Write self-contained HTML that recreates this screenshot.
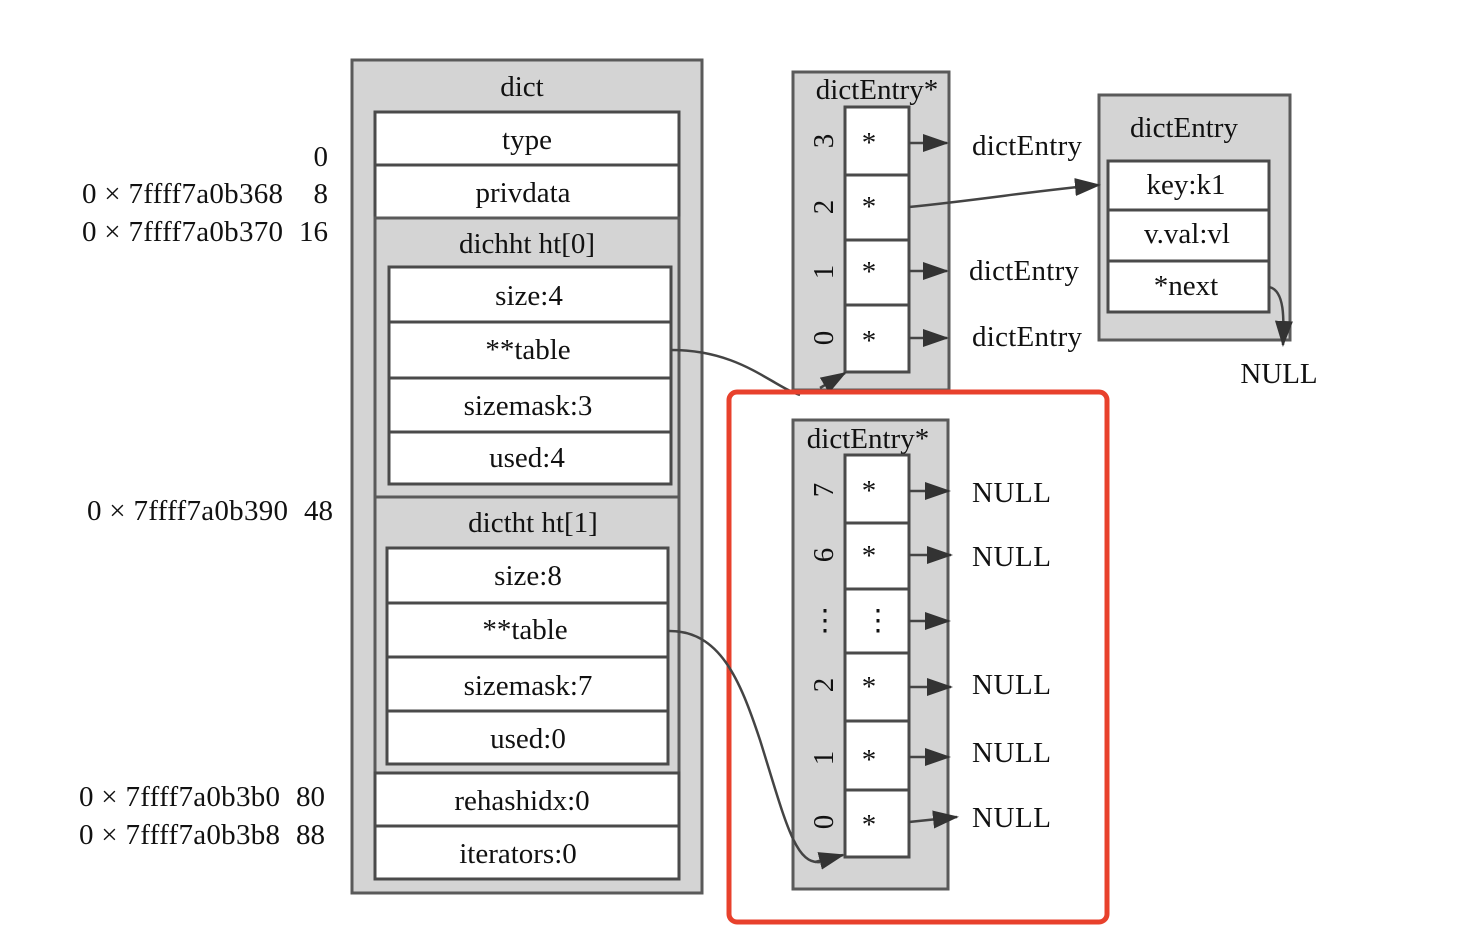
<!DOCTYPE html>
<html><head><meta charset="utf-8"><style>
html,body{margin:0;padding:0;background:#fff}
svg{display:block}
text{font-family:"Liberation Serif",serif;font-size:29px;fill:#111}
.g{fill:#d4d4d4;stroke:#5a5a5a;stroke-width:3}
.w{fill:#fff;stroke:#4a4a4a;stroke-width:3}
.e{stroke:#444;stroke-width:2.5;fill:none}
</style></head><body>
<svg width="1466" height="946" viewBox="0 0 1466 946">
<defs>
<marker id="a2" markerWidth="26" markerHeight="18" refX="24" refY="9" orient="auto" markerUnits="userSpaceOnUse"><path d="M0,0 L26,9 L0,18 z" fill="#333"/></marker></defs>

<g>
<text x="328" y="166" text-anchor="end">0</text>
<text x="82" y="203" textLength="201">0 × 7ffff7a0b368</text><text x="328" y="203" text-anchor="end">8</text>
<text x="82" y="241" textLength="201">0 × 7ffff7a0b370</text><text x="328" y="241" text-anchor="end">16</text>
<text x="87" y="520" textLength="201">0 × 7ffff7a0b390</text><text x="333" y="520" text-anchor="end">48</text>
<text x="79" y="806" textLength="201">0 × 7ffff7a0b3b0</text><text x="325" y="806" text-anchor="end">80</text>
<text x="79" y="844" textLength="201">0 × 7ffff7a0b3b8</text><text x="325" y="844" text-anchor="end">88</text>
</g>

<g>
<rect class="g" x="352" y="60" width="350" height="833"/>
<text x="522" y="96" text-anchor="middle">dict</text>
<rect class="w" x="375" y="112" width="304" height="53"/><text x="527" y="149" text-anchor="middle">type</text>
<rect class="w" x="375" y="165" width="304" height="53"/><text x="523" y="202" text-anchor="middle">privdata</text>
<rect class="g" x="375" y="218" width="304" height="279"/>
<text x="527" y="253" text-anchor="middle">dichht ht[0]</text>
<rect class="w" x="389" y="267" width="282" height="55"/><text x="529" y="305" text-anchor="middle">size:4</text>
<rect class="w" x="389" y="322" width="282" height="56"/><text x="528" y="359" text-anchor="middle">**table</text>
<rect class="w" x="389" y="378" width="282" height="54"/><text x="528" y="415" text-anchor="middle">sizemask:3</text>
<rect class="w" x="389" y="432" width="282" height="52"/><text x="527" y="467" text-anchor="middle">used:4</text>
<rect class="g" x="375" y="497" width="304" height="276"/>
<text x="533" y="532" text-anchor="middle">dictht ht[1]</text>
<rect class="w" x="387" y="548" width="281" height="55"/><text x="528" y="585" text-anchor="middle">size:8</text>
<rect class="w" x="387" y="603" width="281" height="54"/><text x="525" y="639" text-anchor="middle">**table</text>
<rect class="w" x="387" y="657" width="281" height="54"/><text x="528" y="695" text-anchor="middle">sizemask:7</text>
<rect class="w" x="387" y="711" width="281" height="53"/><text x="528" y="748" text-anchor="middle">used:0</text>
<rect class="w" x="375" y="773" width="304" height="53"/><text x="522" y="810" text-anchor="middle">rehashidx:0</text>
<rect class="w" x="375" y="826" width="304" height="53"/><text x="518" y="863" text-anchor="middle">iterators:0</text>
</g>

<g>
<rect class="g" x="793" y="72" width="156" height="318"/>
<text x="877" y="99" text-anchor="middle">dictEntry*</text>
<rect class="w" x="845" y="107" width="64" height="68"/><text x="869" y="152" text-anchor="middle">*</text>
<rect class="w" x="845" y="175" width="64" height="65"/><text x="869" y="216" text-anchor="middle">*</text>
<rect class="w" x="845" y="240" width="64" height="65"/><text x="869" y="281" text-anchor="middle">*</text>
<rect class="w" x="845" y="305" width="64" height="67"/><text x="869" y="350" text-anchor="middle">*</text>
<text transform="translate(833,141) rotate(-90)" text-anchor="middle">3</text>
<text transform="translate(833,207) rotate(-90)" text-anchor="middle">2</text>
<text transform="translate(833,272) rotate(-90)" text-anchor="middle">1</text>
<text transform="translate(833,338) rotate(-90)" text-anchor="middle">0</text>
<line class="e" x1="909" y1="143" x2="947" y2="143" marker-end="url(#a2)"/>
<line class="e" x1="909" y1="271" x2="947" y2="271" marker-end="url(#a2)"/>
<line class="e" x1="909" y1="338" x2="947" y2="338" marker-end="url(#a2)"/>
<text x="972" y="155" textLength="110">dictEntry</text>
<text x="969" y="280" textLength="110">dictEntry</text>
<text x="972" y="346" textLength="110">dictEntry</text>
</g>

<g>
<rect class="g" x="1099" y="95" width="191" height="245"/>
<text x="1184" y="137" text-anchor="middle">dictEntry</text>
<rect class="w" x="1108" y="161" width="161" height="49"/><text x="1186" y="194" text-anchor="middle">key:k1</text>
<rect class="w" x="1108" y="210" width="161" height="51"/><text x="1187" y="243" text-anchor="middle">v.val:vl</text>
<rect class="w" x="1108" y="261" width="161" height="51"/><text x="1186" y="295" text-anchor="middle">*next</text>
<path class="e" d="M1269,287 C1285,290 1284,320 1283,345" marker-end="url(#a2)"/>
<text x="1279" y="383" text-anchor="middle">NULL</text>
</g>
<path class="e" d="M909,207 C980,200 1040,190 1099,185" marker-end="url(#a2)"/>
<path class="e" d="M671,350 C740,350 770,385 800,395" />
<path class="e" d="M820,388 L845,373" marker-end="url(#a2)"/>

<rect x="729" y="392" width="378" height="530" rx="8" fill="none" stroke="#e8412c" stroke-width="5"/>

<g>
<rect class="g" x="793" y="420" width="155" height="469"/>
<text x="868" y="448" text-anchor="middle">dictEntry*</text>
<rect class="w" x="845" y="455" width="64" height="68"/><text x="869" y="500" text-anchor="middle">*</text>
<rect class="w" x="845" y="523" width="64" height="66"/><text x="869" y="565" text-anchor="middle">*</text>
<rect class="w" x="845" y="589" width="64" height="64"/><text x="878" y="630" text-anchor="middle">⋮</text>
<rect class="w" x="845" y="653" width="64" height="68"/><text x="869" y="696" text-anchor="middle">*</text>
<rect class="w" x="845" y="721" width="64" height="69"/><text x="869" y="769" text-anchor="middle">*</text>
<rect class="w" x="845" y="790" width="64" height="67"/><text x="869" y="834" text-anchor="middle">*</text>
<text transform="translate(833,490) rotate(-90)" text-anchor="middle">7</text>
<text transform="translate(833,555) rotate(-90)" text-anchor="middle">6</text>
<text x="825" y="630" text-anchor="middle">⋮</text>
<text transform="translate(833,685) rotate(-90)" text-anchor="middle">2</text>
<text transform="translate(833,758) rotate(-90)" text-anchor="middle">1</text>
<text transform="translate(833,822) rotate(-90)" text-anchor="middle">0</text>
<line class="e" x1="909" y1="491" x2="949" y2="491" marker-end="url(#a2)"/>
<line class="e" x1="909" y1="555" x2="951" y2="555" marker-end="url(#a2)"/>
<line class="e" x1="909" y1="621" x2="949" y2="621" marker-end="url(#a2)"/>
<line class="e" x1="909" y1="687" x2="951" y2="687" marker-end="url(#a2)"/>
<line class="e" x1="909" y1="757" x2="949" y2="757" marker-end="url(#a2)"/>
<line class="e" x1="909" y1="822" x2="957" y2="817" marker-end="url(#a2)"/>
<text x="972" y="502" textLength="79">NULL</text>
<text x="972" y="566" textLength="79">NULL</text>
<text x="972" y="694" textLength="79">NULL</text>
<text x="972" y="762" textLength="79">NULL</text>
<text x="972" y="827" textLength="79">NULL</text>
</g>
<path class="e" d="M668,631 C720,630 740,680 760,740 C785,820 795,865 820,862" />
<path class="e" d="M815,862 L843,855" marker-end="url(#a2)"/>
</svg>
</body></html>
